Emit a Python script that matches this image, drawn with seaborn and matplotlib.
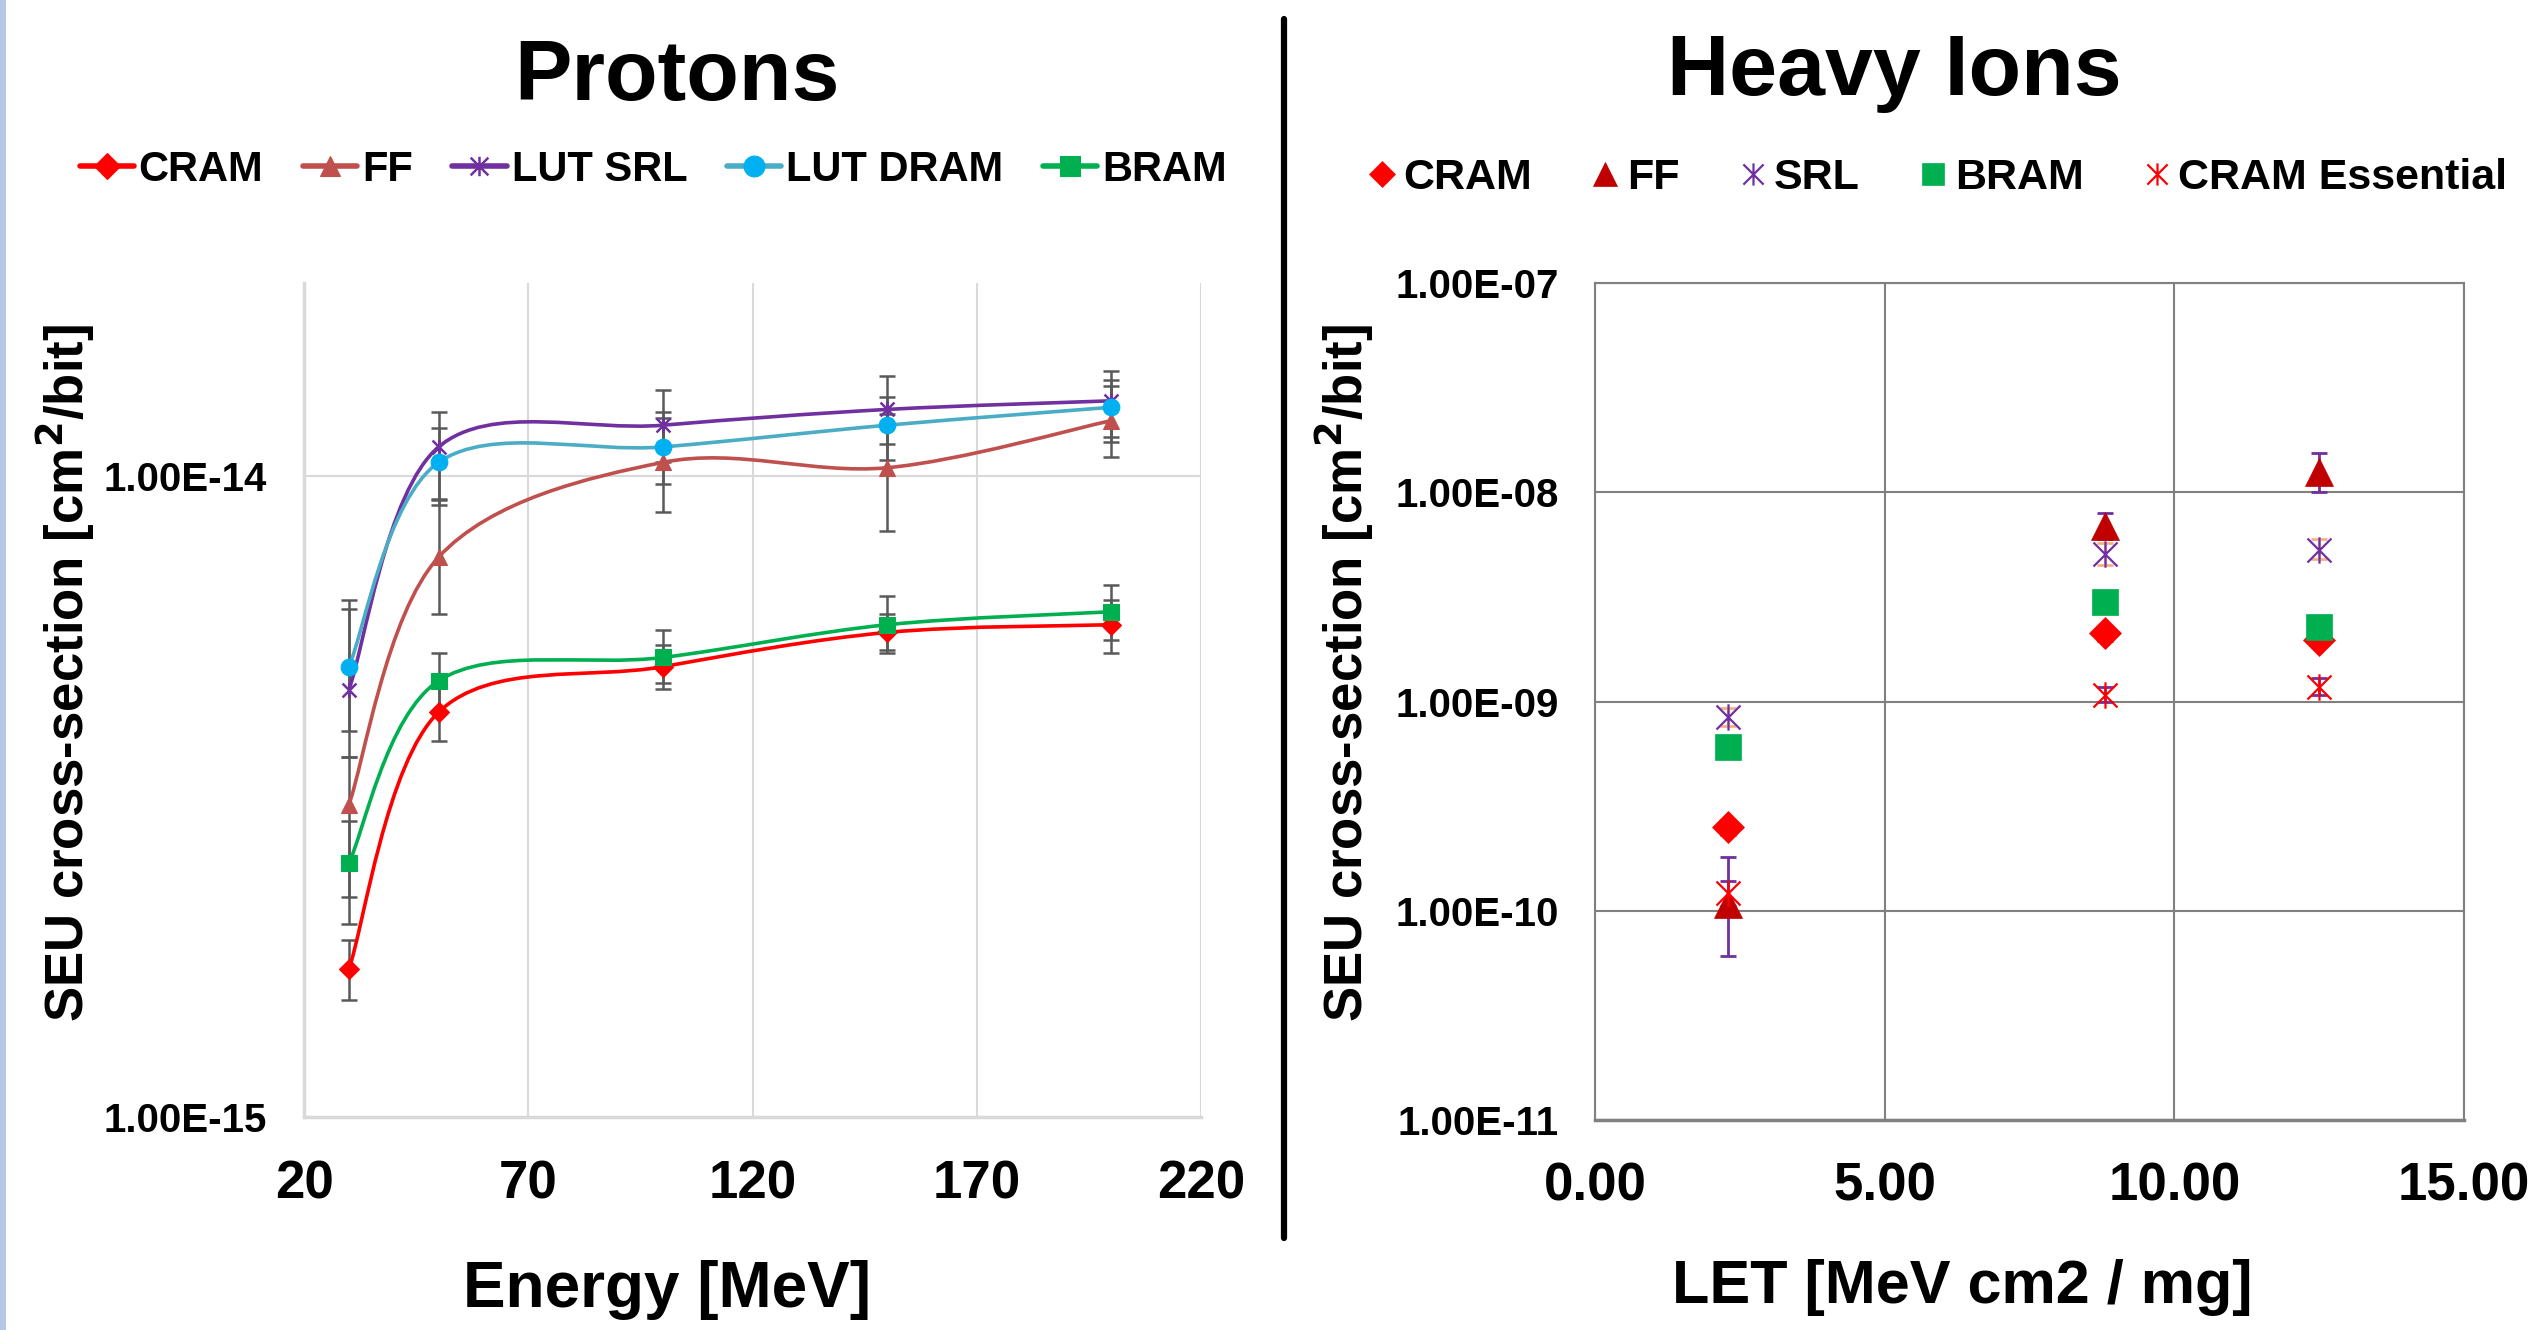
import numpy as np
import matplotlib
matplotlib.use("Agg")
import matplotlib.pyplot as plt
import seaborn as sns
from matplotlib.path import Path
from matplotlib.patches import PathPatch, Rectangle
from matplotlib.lines import Line2D
from matplotlib.ticker import FixedLocator, FuncFormatter, LogLocator, MultipleLocator, NullFormatter

# ---- Protons data (energy in MeV, cross-section in cm2/bit) ----
energy = [30, 50, 100, 150, 200]
energy_ticks = [20, 70, 120, 170, 220]
p_names = ["CRAM", "FF", "LUT SRL", "LUT DRAM", "BRAM"]
p_cram = [1.70e-15, 4.28e-15, 5.04e-15, 5.70e-15, 5.86e-15]
p_cram_lo = [1.52e-15, 3.86e-15, 4.65e-15, 5.30e-15, 5.30e-15]
p_cram_hi = [1.89e-15, 4.75e-15, 5.45e-15, 6.10e-15, 6.40e-15]
p_ff = [3.07e-15, 7.47e-15, 1.05e-14, 1.03e-14, 1.22e-14]
p_ff_lo = [2.20e-15, 6.10e-15, 8.80e-15, 8.20e-15, 1.07e-14]
p_ff_hi = [3.65e-15, 9.17e-15, 1.23e-14, 1.25e-14, 1.38e-14]
p_srl = [4.64e-15, 1.11e-14, 1.20e-14, 1.27e-14, 1.31e-14]
p_srl_lo = [3.65e-15, 9.20e-15, 1.05e-14, 1.12e-14, 1.15e-14]
p_srl_hi = [6.40e-15, 1.26e-14, 1.36e-14, 1.43e-14, 1.46e-14]
p_dram = [5.04e-15, 1.05e-14, 1.11e-14, 1.20e-14, 1.28e-14]
p_dram_lo = [4.00e-15, 9.00e-15, 9.70e-15, 1.06e-14, 1.13e-14]
p_dram_hi = [6.20e-15, 1.19e-14, 1.26e-14, 1.33e-14, 1.41e-14]
p_bram = [2.49e-15, 4.79e-15, 5.21e-15, 5.86e-15, 6.14e-15]
p_bram_lo = [2.00e-15, 4.30e-15, 4.75e-15, 5.35e-15, 5.55e-15]
p_bram_hi = [2.90e-15, 5.30e-15, 5.76e-15, 6.50e-15, 6.76e-15]

# ---- Heavy ions data (LET in MeV cm2/mg) ----
let = [2.3, 8.8, 12.5]
h_names = ["CRAM", "FF", "SRL", "BRAM", "CRAM Essential"]
h_cram = [2.50e-10, 2.13e-09, 1.96e-09]
h_cram_lo = [2.30e-10, 1.95e-09, 1.85e-09]
h_cram_hi = [2.70e-10, 2.30e-09, 2.10e-09]
h_ff = [1.08e-10, 6.93e-09, 1.25e-08]
h_ff_lo = [6.10e-11, 6.00e-09, 1.00e-08]
h_ff_hi = [1.80e-10, 7.95e-09, 1.54e-08]
h_srl = [8.43e-10, 5.06e-09, 5.32e-09]
h_srl_lo = [7.60e-10, 4.50e-09, 4.80e-09]
h_srl_hi = [9.30e-10, 5.70e-09, 6.00e-09]
h_bram = [6.04e-10, 2.98e-09, 2.27e-09]
h_ess = [1.22e-10, 1.08e-09, 1.17e-09]
h_ess_lo = [1.05e-10, 1.00e-09, 1.07e-09]
h_ess_hi = [1.38e-10, 1.17e-09, 1.30e-09]

# Excel-like "star" marker: an X with a vertical bar
star = Path([(-1, -1), (1, 1), (-1, 1), (1, -1), (0, -1.1), (0, 1.1)],
            [Path.MOVETO, Path.LINETO, Path.MOVETO, Path.LINETO, Path.MOVETO, Path.LINETO])


def smooth_curve(ax, xs, ys, color):
    # Excel style smoothed line: Catmull-Rom bezier in (x, log y) space
    pts = np.column_stack([np.asarray(xs, float), np.log10(ys)])
    n = len(pts)
    verts = [pts[0]]
    codes = [Path.MOVETO]
    for i in range(n - 1):
        p0 = pts[i - 1] if i > 0 else pts[i]
        p1, p2 = pts[i], pts[i + 1]
        p3 = pts[i + 2] if i + 2 < n else pts[i + 1]
        verts += [p1 + (p2 - p0) / 6, p2 - (p3 - p1) / 6, p2]
        codes += [Path.CURVE4] * 3
    verts = np.array(verts)
    verts[:, 1] = 10 ** verts[:, 1]
    ax.add_patch(PathPatch(Path(verts, codes), fill=False, edgecolor=color,
                           lw=2.6, transform=ax.transData, zorder=3))


def sci(v, pos):
    return f"{v:.2E}"


sns.set_style("white")
plt.rcParams["font.family"] = ["Liberation Sans", "DejaVu Sans"]
plt.rcParams["font.weight"] = "bold"
for k in ["text.color", "axes.labelcolor", "xtick.labelcolor", "ytick.labelcolor"]:
    plt.rcParams[k] = "black"

fig = plt.figure(figsize=(25.38, 13.30), dpi=100)
fig.patches.append(Rectangle((0, 0), 0.0025, 1, transform=fig.transFigure,
                             facecolor="#B4C7E7", edgecolor="none"))
fig.add_artist(Line2D([0.5059, 0.5059], [1 - 19 / 1330, 1 - 1238 / 1330],
                      transform=fig.transFigure, color="black", lw=4.5))

# ================= Protons =================
ax1 = fig.add_axes([0.1198, 0.1602, 0.3534, 0.6270])
p_series = [
    (p_cram, p_cram_lo, p_cram_hi, "#FF0000", "#FF0000", "D", 10),
    (p_ff, p_ff_lo, p_ff_hi, "#C0504D", "#C0504D", "^", 11),
    (p_srl, p_srl_lo, p_srl_hi, "#7030A0", "#7030A0", star, 11),
    (p_dram, p_dram_lo, p_dram_hi, "#4BACC6", "#00B0F0", "o", 12),
    (p_bram, p_bram_lo, p_bram_hi, "#00B050", "#00B050", "s", 11),
]
handles = []
for (vals, lo, hi, lc, mc, mk, ms), name in zip(p_series, p_names):
    ax1.errorbar(energy, vals,
                 yerr=[np.array(vals) - np.array(lo), np.array(hi) - np.array(vals)],
                 fmt="none", ecolor="#595959", elinewidth=1.8, capsize=6, capthick=1.8, zorder=2)
    smooth_curve(ax1, energy, vals, lc)
    sns.lineplot(x=energy, y=vals, ax=ax1, marker=mk, linestyle="none", markersize=ms,
                 color=mc, markeredgecolor=mc, markeredgewidth=1.8 if mk is star else 0.8,
                 zorder=4, legend=False)
    handles.append(Line2D([], [], color=lc, lw=4, marker=mk, markersize=ms + 3,
                          markerfacecolor=mc, markeredgecolor=mc,
                          markeredgewidth=1.8 if mk is star else 0.8, label=name))

ax1.set_yscale("log")
ax1.set_xlim(20, 220)
ax1.set_ylim(1e-15, 2e-14)
ax1.xaxis.set_major_locator(FixedLocator(energy_ticks))
ax1.xaxis.set_minor_locator(MultipleLocator(10))
ax1.yaxis.set_major_locator(FixedLocator([1e-15, 1e-14]))
ax1.yaxis.set_minor_locator(LogLocator(base=10, subs=np.arange(2, 10)))
ax1.yaxis.set_major_formatter(FuncFormatter(sci))
ax1.yaxis.set_minor_formatter(NullFormatter())
ax1.grid(True, which="major", color="#D9D9D9", lw=1.5)
for s in ["top", "right"]:
    ax1.spines[s].set_visible(False)
for s in ["left", "bottom"]:
    ax1.spines[s].set_color("#D9D9D9")
    ax1.spines[s].set_linewidth(2.5)
ax1.tick_params(axis="x", which="major", labelsize=38, pad=22, direction="inout",
                length=18, color="#D9D9D9", width=1.5)
ax1.tick_params(axis="x", which="minor", direction="inout", length=18, color="#D9D9D9", width=1.5)
ax1.tick_params(axis="y", which="major", labelsize=29, pad=18, direction="inout",
                length=18, color="#D9D9D9", width=1.5)
ax1.tick_params(axis="y", which="minor", direction="inout", length=14, color="#D9D9D9", width=1.5)
ax1.set_xlabel("Energy [MeV]", fontsize=46, fontweight="bold")
ax1.xaxis.set_label_coords(0.405, -0.172)
ax1.set_ylabel("SEU cross-section [cm$^\\mathbf{2}$/bit]", fontsize=38, fontweight="bold")
ax1.yaxis.set_label_coords(-0.231, 0.532)
fig.text(677 / 2538, 1 - 78 / 1330, "Protons", fontsize=62, fontweight="bold",
         ha="center", va="center")
fig.legend(handles=handles, loc="center", bbox_to_anchor=(653 / 2538, 1 - 170 / 1330),
           ncol=5, frameon=False, handlelength=1.3, handletextpad=0.12,
           columnspacing=0.95, prop={"weight": "bold", "size": 30})

# ================= Heavy Ions =================
ax2 = fig.add_axes([0.6285, 0.1579, 0.3424, 0.6293])
h_series = [
    (h_cram, "#FF0000", "D", 16, h_cram_lo, h_cram_hi, "#FF0000"),
    (h_ff, "#C00000", "^", 20, h_ff_lo, h_ff_hi, "#7030A0"),
    (h_srl, "#7030A0", star, 19, h_srl_lo, h_srl_hi, "#F4B183"),
    (h_bram, "#00B050", "s", 19, None, None, None),
    (h_ess, "#FF0000", star, 19, h_ess_lo, h_ess_hi, "#7030A0"),
]
h_handles = []
for (vals, c, mk, ms, lo, hi, ec), name in zip(h_series, h_names):
    if lo is not None:
        ax2.errorbar(let, vals,
                     yerr=[np.array(vals) - np.array(lo), np.array(hi) - np.array(vals)],
                     fmt="none", ecolor=ec, elinewidth=2, capsize=6, capthick=2, zorder=2)
    sns.lineplot(x=let, y=vals, ax=ax2, marker=mk, linestyle="none", markersize=ms,
                 color=c, markeredgecolor=c, markeredgewidth=1.6 if mk is star else 0.5,
                 zorder=3, legend=False)
    h_handles.append(Line2D([], [], linestyle="none", marker=mk, markersize=ms - 3,
                            markerfacecolor=c, markeredgecolor=c,
                            markeredgewidth=1.6 if mk is star else 0.5, label=name))

ax2.set_yscale("log")
ax2.set_xlim(0, 15)
ax2.set_ylim(1e-11, 1e-7)
ax2.xaxis.set_major_locator(MultipleLocator(5))
ax2.xaxis.set_minor_locator(MultipleLocator(1))
ax2.xaxis.set_major_formatter(FuncFormatter(lambda v, p: f"{v:.2f}"))
ax2.yaxis.set_major_locator(LogLocator(base=10))
ax2.yaxis.set_minor_locator(LogLocator(base=10, subs=np.arange(2, 10)))
ax2.yaxis.set_major_formatter(FuncFormatter(sci))
ax2.yaxis.set_minor_formatter(NullFormatter())
ax2.grid(True, which="major", color="#808080", lw=1.5)
for s in ax2.spines.values():
    s.set_color("#808080")
    s.set_linewidth(1.5)
ax2.spines["bottom"].set_linewidth(2.5)
ax2.tick_params(axis="x", which="major", labelsize=38, pad=22, direction="inout",
                length=16, color="#808080", width=1.5)
ax2.tick_params(axis="x", which="minor", direction="in", length=14, color="#808080", width=1.5)
ax2.tick_params(axis="y", which="major", labelsize=29, pad=18, direction="inout",
                length=16, color="#808080", width=1.5)
ax2.tick_params(axis="y", which="minor", direction="inout", length=12, color="#808080", width=1.5)
ax2.set_xlabel("LET [MeV cm2 / mg]", fontsize=44, fontweight="bold")
ax2.xaxis.set_label_coords(0.422, -0.166)
ax2.set_ylabel("SEU cross-section [cm$^\\mathbf{2}$/bit]", fontsize=38, fontweight="bold")
ax2.yaxis.set_label_coords(-0.252, 0.534)
fig.text(1894 / 2538, 1 - 73 / 1330, "Heavy Ions", fontsize=62, fontweight="bold",
         ha="center", va="center")
fig.legend(handles=h_handles, loc="center", bbox_to_anchor=(1938 / 2538, 1 - 178 / 1330),
           ncol=5, frameon=False, handlelength=0.6, handletextpad=0.2,
           columnspacing=1.4, prop={"weight": "bold", "size": 31})

fig.savefig("out.png", dpi=100)
